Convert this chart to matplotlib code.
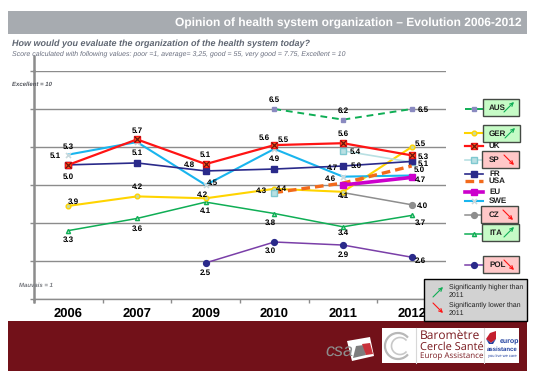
import numpy as np
import matplotlib
matplotlib.use("Agg")
import matplotlib.pyplot as plt
from matplotlib.patches import Rectangle, Polygon, Arc, FancyArrowPatch

W, H = 543, 386
years = ["2006", "2007", "2009", "2010", "2011", "2012"]
nan = np.nan
uk  = [5.03, 5.70, 5.05, 5.55, 5.60, 5.28]
swe = [5.30, 5.63, 4.50, 5.45, 4.72, 4.75]
fr  = [5.03, 5.08, 4.87, 4.92, 5.00, 5.12]
ger = [3.95, 4.20, 4.15, 4.40, 4.32, 5.50]
ita = [3.30, 3.62, 4.05, 3.75, 3.40, 3.70]
pol = [nan, nan, 2.45, 3.00, 2.92, 2.60]
aus = [nan, nan, nan, 6.50, 6.22, 6.50]
sp  = [nan, nan, nan, nan, 5.40, 5.10]
sp_2010 = [nan, nan, nan, 4.30, nan, nan]
usa = [nan, nan, nan, 4.30, 4.55, 5.00]
eu  = [nan, nan, nan, nan, 4.50, 4.70]
cz  = [nan, nan, nan, nan, 4.30, 3.98]

uk_lab  = ["5.0", "5.7", "5.1", "5.5", "5.6", "5.3"]
swe_lab = ["5.3", "", "4.5", "5.6", "4.7", ""]
fr_lab  = ["5.1", "5.1", "4.8", "4.9", "5.0", "5.1"]
ger_lab = ["3.9", "4.2", "4.2", "4.3", "", "5.5"]
ita_lab = ["3.3", "3.6", "4.1", "3.8", "3.4", "3.7"]
pol_lab = ["", "", "2.5", "3.0", "2.9", "2.6"]
aus_lab = ["", "", "", "6.5", "6.2", "6.5"]
sp_lab  = ["", "", "", "", "5.4", ""]
usa_lab = ["", "", "", "4.4", "4.6", "5.0"]
eu_lab  = ["", "", "", "", "", "4.7"]
cz_lab  = ["", "", "", "", "4.1", "4.0"]

plt.rcParams["font.family"] = ["Liberation Sans", "DejaVu Sans"]
plt.rcParams["text.hinting"] = "no_hinting"
plt.rcParams["text.hinting_factor"] = 1
fig = plt.figure(figsize=(W/100, H/100), dpi=100, facecolor="white")

L, R, T, B = 34, 446, 71, 299
ax = fig.add_axes([L/W, 1-B/H, (R-L)/W, (B-T)/H])
ov = fig.add_axes([0, 0, 1, 1], facecolor="none")
ov.set_xlim(0, W); ov.set_ylim(H, 0); ov.axis("off")

GRID = "#8c8c8c"
ax.set_xlim(-0.5, 5.5); ax.set_ylim(1.5, 7.5)
ax.set_yticks(np.arange(1.5, 7.6, 1)); ax.set_yticklabels([])
ax.set_xticks(range(6)); ax.set_xticklabels(years, fontsize=9, fontweight="bold", color="black")
ax.set_xticks(np.arange(-0.5, 5.6, 1), minor=True)
ax.tick_params(axis="x", which="major", length=0, pad=6)
ax.tick_params(axis="x", which="minor", length=3, width=1, color=GRID)
ax.tick_params(axis="y", length=3, width=1, color=GRID)
ax.grid(axis="y", color=GRID, lw=1)
ax.set_axisbelow(True)
for s in ("top", "right"):
    ax.spines[s].set_visible(False)
ax.spines["left"].set_color(GRID); ax.spines["left"].set_linewidth(1.8)
ax.spines["bottom"].set_color(GRID); ax.spines["bottom"].set_linewidth(1)
ov.plot([34, 34], [55, 72], color=GRID, lw=1.8, solid_capstyle="butt")
ov.plot([34, 34], [299, 303], color=GRID, lw=1.8, solid_capstyle="butt")

x = np.arange(6)
styles = {
    "ITA": dict(color="#0fae55", lw=1.1, marker="^", ms=3.0, mfc="#b9e3cb", mec="#0fae55"),
    "POL": dict(color="#7a3fa8", lw=1.1, marker="o", ms=4.2, mfc="#2a2a8a", mec="#2a2a8a"),
    "CZ":  dict(color="#8e8e8e", lw=1.1, marker="o", ms=4.2, mfc="#8e8e8e", mec="#8e8e8e"),
    "GER": dict(color="#ffd400", lw=1.5, marker="o", ms=3.4, mfc="#c9d9a0", mec="#ffd400"),
    "AUS": dict(color="#0fae55", lw=1.4, ls=(0, (3.5, 2.5)), marker="s", ms=2.5, mfc="#8a8ac0", mec="#8a8ac0"),
    "SP":  dict(color="#b9e0e3", lw=1.2, marker="s", ms=4.2, mfc="#b9e0e3", mec="#7fc8d0"),
    "EU":  dict(color="#cc00cc", lw=2.6, marker="s", ms=4.2, mfc="#cc00cc", mec="#cc00cc"),
    "USA": dict(color="#f26a1b", lw=2.4, ls=(0, (2.6, 1.5)), marker="None"),
    "SWE": dict(color="#19b5ee", lw=1.5, marker="x", ms=3.6, mew=1.2, mec="#c8d8dc"),
    "FR":  dict(color="#2a2a8a", lw=1.2, marker="s", ms=5.0, mfc="#2a2a8a", mec="#2a2a8a"),
    "UK":  dict(color="#ff1414", lw=1.6, marker="s", ms=4.2, mfc="#f26a1b", mec="#ff1414"),
}
series = [("ITA", ita), ("POL", pol), ("CZ", cz), ("GER", ger), ("AUS", aus), ("SP", sp),
          ("SWE", swe), ("FR", fr), ("UK", uk), ("USA", usa), ("EU", eu)]
for name, vals in series:
    ax.plot(x, vals, clip_on=False, **styles[name])
ax.plot(x, sp_2010, clip_on=False, ls="none", marker="s", ms=4.2, mfc="#b9e0e3", mec="#7fc8d0")
ax.plot(x, uk, ls="none", marker="x", ms=4, mew=0.9, mec="#701010", clip_on=False)

def labels(vals, texts, offs):
    for i, (v, t) in enumerate(zip(vals, texts)):
        if not t:
            continue
        dx, dy = offs[i]
        ax.annotate(t, (i, v), xytext=(dx*0.72, -dy*0.72), textcoords="offset points",
                    ha="center", va="center", fontsize=5.5, fontweight="bold", color="black",
                    annotation_clip=False, zorder=10)

Z = (0, 0)
labels(uk, uk_lab, [(0, 12), (0, -9), (0, -9), (9, -5), (0, -9), (12, 1)])
labels(swe, swe_lab, [(0, -8), Z, (7, -2), (-10, -11), (-11, -9), Z])
labels(fr, fr_lab, [(-13, -9), (0, -10), (-16, -6), (0, -10), (13, 0), (12, 2)])
labels(ger, ger_lab, [(5, -4), (0, -9), (-3, -3), (-13, 2), Z, (9, -3)])
labels(ita, ita_lab, [(0, 9), (0, 10), (0, 9), (-4, 9), (0, 6), (9, 7)])
labels(pol, pol_lab, [Z, Z, (0, 10), (-4, 9), (0, 10), (9, 4)])
labels(aus, aus_lab, [Z, Z, Z, (0, -9), (0, -9), (12, 1)])
labels(sp, sp_lab, [Z, Z, Z, Z, (12, 1), Z])
labels(usa, usa_lab, [Z, Z, Z, (7, -4), (-13, -4), (8, 4)])
labels(eu, eu_lab, [Z, Z, Z, Z, Z, (9, 3)])
labels(cz, cz_lab, [Z, Z, Z, Z, (0, 3), (11, 1)])

# header and footer
ov.add_patch(Rectangle((8, 11), 519, 22.5, fc="#a7abb0", ec="none"))
ov.text(522, 23, "Opinion of health system organization \u2013 Evolution 2006-2012", ha="right", va="center",
        color="white", fontsize=8.6, fontweight="bold")
ov.text(12, 44, "How would you evaluate the organization of the health system today?", va="center",
        color="#5f6672", fontsize=6.6, fontweight="bold", style="italic")
ov.text(12, 54, "Score calculated with following values: poor =1, average= 3,25, good = 55, very good = 7.75, Excellent = 10",
        va="center", color="#6b7080", fontsize=4.76, style="italic")
ov.text(12, 84, "Excellent = 10", va="center", color="#55585f", fontsize=4.2, fontweight="bold", style="italic")
ov.text(19, 285, "Mauvais = 1", va="center", color="#77797f", fontsize=4.2, fontweight="bold", style="italic")
ov.add_patch(Rectangle((8, 321), 519, 50, fc="#721119", ec="none"))

# legend
def arrow(x0, y0, x1, y1, c, lw=0.8):
    ov.add_patch(FancyArrowPatch((x0, y0), (x1, y1), arrowstyle="->", mutation_scale=6, color=c, lw=lw,
                                 shrinkA=0, shrinkB=0, zorder=6))

UP, DOWN = "#0fae55", "#ff1414"
boxes = [("AUS", 483, 519, 99, 116, 489, True), ("GER", 483, 520, 125, 142, 489, True),
         ("SP", 482, 519, 151, 168, 489, False), ("CZ", 481, 518, 206, 223, 489, False),
         ("ITA", 482, 519, 224, 241, 489, True), ("POL", 483, 519, 256, 273, 489, False)]
for name, x0, x1, y0, y1, tx, up in boxes:
    ov.add_patch(Rectangle((x0, y0), x1-x0, y1-y0, fc="#c6fbc6" if up else "#ffc8c8", ec="#444a44", lw=1, zorder=3))
    ov.text(tx, (y0+y1)/2, name, va="center", fontsize=6, fontweight="bold", color="#202020", zorder=4)
    if up:
        arrow(x1-15, y1-4, x1-5, y0+3, UP)
    else:
        arrow(x1-15, y0+4, x1-5, y1-3, DOWN)
for name, y in [("UK", 146), ("FR", 174), ("USA", 181), ("EU", 192), ("SWE", 201)]:
    ov.text(489, y, name, va="center", fontsize=6, fontweight="bold", color="#202020")
legend_rows = [("AUS", 109), ("GER", 133), ("UK", 146), ("SP", 160), ("FR", 174), ("USA", 181),
               ("EU", 192), ("SWE", 201), ("CZ", 215), ("ITA", 234), ("POL", 265)]
for name, y in legend_rows:
    st = dict(styles[name])
    mk = {k: st.pop(k) for k in ("marker", "ms", "mfc", "mec", "mew") if k in st}
    ov.plot([465, 483], [y, y], **st)
    ov.plot([474], [y], ls="none", **mk)
ov.plot([474], [146], ls="none", marker="x", ms=4, mew=0.9, mec="#701010")

# significance note
ov.add_patch(Rectangle((424, 279), 103, 42, fc="#d2d2d2", ec="black", lw=1, zorder=3))
arrow(433, 297, 443, 287, UP)
arrow(433, 303, 443, 313, DOWN)
for y, t in [(287, "Significantly higher than"), (295, "2011"), (305, "Significantly lower than"), (313, "2011")]:
    ov.text(449, y, t, va="center", fontsize=4.9, color="#202020", zorder=4)

# footer logos
ov.add_patch(Rectangle((382, 328), 137, 35, fc="white", ec="none"))
ov.plot([416, 416], [328, 363], color="#d8d8d8", lw=0.8)
ov.plot([484, 484], [328, 363], color="#d8d8d8", lw=0.8)
ov.add_patch(Arc((398, 346), 26, 26, theta1=40, theta2=320, color="#b8b8b8", lw=1.6))
ov.add_patch(Arc((400, 346), 17, 17, theta1=40, theta2=320, color="#c8c8c8", lw=1.2))
ov.text(420, 336, "Barom\u00e8tre", va="center", fontsize=8.4, color="#7a1a20", family="Open Sans")
ov.text(420, 347, "Cercle Sant\u00e9", va="center", fontsize=7.6, color="#7a1a20", family="Open Sans")
ov.text(420, 356.5, "Europ Assistance", va="center", fontsize=5.6, color="#7a1a20", family="Open Sans")
ov.add_patch(Polygon([(490, 333), (496, 331), (496, 339), (491, 343), (486, 339)], fc="#c41f2e", ec="none"))
ov.add_patch(Polygon([(486, 339), (491, 343), (496, 339), (493, 344), (489, 344)], fc="#2040a0", ec="none"))
ov.text(509, 341.5, "europ", ha="center", va="center", fontsize=5, fontweight="bold", color="#1f3f9f")
ov.text(502, 349, "assistance", ha="center", va="center", fontsize=4.6, fontweight="bold", color="#1f3f9f")
ov.text(502, 356, "you live we care", ha="center", va="center", fontsize=3, color="#2040a0")
ov.text(325, 351, "csa", va="center", fontsize=13, style="italic", color="#8d8d8d")
ov.add_patch(Polygon([(347, 341), (370, 337), (374, 356), (352, 361)], fc="white", ec="none"))
ov.add_patch(Polygon([(353, 358), (356, 346), (364, 345), (366, 355)], fc="#7d7d7d", ec="none"))
ov.add_patch(Polygon([(362, 344), (370, 343), (373, 354), (366, 355)], fc="#c8323a", ec="none"))

fig.savefig("out.png", dpi=100)
